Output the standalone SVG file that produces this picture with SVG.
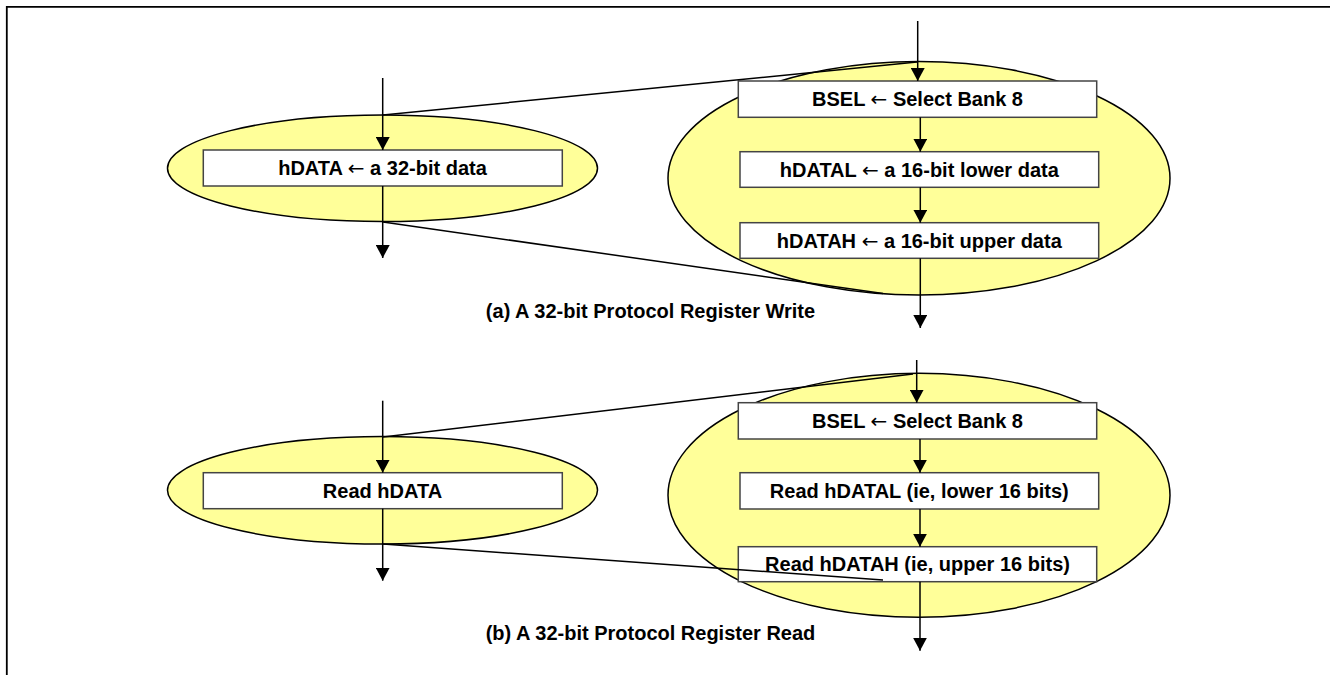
<svg xmlns="http://www.w3.org/2000/svg" width="1330" height="675" viewBox="0 0 1330 675">
<style>
.bg{fill:#ffffff}
.frame{stroke:#000;stroke-width:1.8;fill:none}
.ell{fill:#FFFF99;stroke:#000;stroke-width:1.5}
.box{fill:#fff;stroke:#444;stroke-width:1.5}
.t{font-family:"Liberation Sans",Arial,sans-serif;font-weight:bold;font-size:20px;fill:#000;text-anchor:middle}
.la{font-family:"DejaVu Sans",sans-serif;font-weight:normal}
.arr{stroke:#000;stroke-width:1.5;fill:none;marker-end:url(#ah)}
.zl{stroke:#000;stroke-width:1.5;fill:none}
</style>
<defs>
<marker id="ah" markerUnits="userSpaceOnUse" markerWidth="14" markerHeight="14" refX="13" refY="7" orient="auto">
<path d="M0,0 L13,7 L0,14 Z" fill="#000"/>
</marker>
</defs>
<rect class="bg" x="0" y="0" width="1330" height="675"/>
<path class="frame" d="M6.8,675 V6.8 H1330"/>

<g id="write-left">
<ellipse class="ell" cx="382.5" cy="168.3" rx="215" ry="53.3"/>
<rect class="box" x="203.3" y="150" width="359" height="36"/>
<text class="t" x="382.5" y="175">hDATA <tspan class="la">←</tspan> a 32-bit data</text>
</g>
<g id="write-right">
<ellipse class="ell" cx="919" cy="178.3" rx="251" ry="116.7"/>
<g id="w-bsel"><rect class="box" x="738.3" y="81" width="358.4" height="36.3"/>
<text class="t" x="917.5" y="106">BSEL <tspan class="la">←</tspan> Select Bank 8</text></g>
<g id="w-hdatal"><rect class="box" x="740" y="151.7" width="358.7" height="35.6"/>
<text class="t" x="919.3" y="176.5">hDATAL <tspan class="la">←</tspan> a 16-bit lower data</text></g>
<g id="w-hdatah"><rect class="box" x="740" y="222.7" width="358.7" height="35.6"/>
<text class="t" x="919.3" y="247.5">hDATAH <tspan class="la">←</tspan> a 16-bit upper data</text></g>
</g>
<text id="cap-a" class="t" x="650.5" y="318">(a) A 32-bit Protocol Register Write</text>

<g id="read-left">
<ellipse class="ell" cx="382.5" cy="490.3" rx="215" ry="53.7"/>
<rect class="box" x="203.3" y="472.7" width="359" height="36"/>
<text class="t" x="382.5" y="497.5">Read hDATA</text>
</g>
<g id="read-right">
<ellipse class="ell" cx="919" cy="495.3" rx="251" ry="122"/>
<g id="r-bsel"><rect class="box" x="738.3" y="402.7" width="358.4" height="36.3"/>
<text class="t" x="917.5" y="427.8">BSEL <tspan class="la">←</tspan> Select Bank 8</text></g>
<g id="r-hdatal"><rect class="box" x="740" y="472.7" width="358.7" height="36.3"/>
<text class="t" x="919.3" y="497.8">Read hDATAL (ie, lower 16 bits)</text></g>
<g id="r-hdatah"><rect class="box" x="738.3" y="546.7" width="358.4" height="35"/>
<text class="t" x="917.5" y="571.3">Read hDATAH (ie, upper 16 bits)</text></g>
</g>
<text id="cap-b" class="t" x="650.5" y="640">(b) A 32-bit Protocol Register Read</text>

<g id="connectors">
<line class="arr" x1="382.7" y1="78" x2="382.7" y2="150"/>
<line class="arr" x1="382.7" y1="186" x2="382.7" y2="258"/>
<line class="arr" x1="917.7" y1="21" x2="917.7" y2="81"/>
<line class="arr" x1="920.3" y1="117.3" x2="920.3" y2="151.7"/>
<line class="arr" x1="920.3" y1="187.3" x2="920.3" y2="222.7"/>
<line class="arr" x1="920.3" y1="258.3" x2="920.3" y2="328"/>
<line class="zl" x1="383" y1="115" x2="917" y2="62"/>
<line class="zl" x1="383" y1="222" x2="883" y2="293.5"/>

<line class="arr" x1="382.7" y1="400.7" x2="382.7" y2="472.7"/>
<line class="arr" x1="382.7" y1="508.7" x2="382.7" y2="580.7"/>
<line class="arr" x1="916.7" y1="360" x2="916.7" y2="402.7"/>
<line class="arr" x1="920" y1="439" x2="920" y2="472.7"/>
<line class="arr" x1="920" y1="509" x2="920" y2="546.7"/>
<line class="arr" x1="920" y1="581.7" x2="920" y2="650.7"/>
<line class="zl" x1="383" y1="437" x2="913" y2="374"/>
<line class="zl" x1="383" y1="544" x2="883" y2="580"/>
</g>
</svg>
